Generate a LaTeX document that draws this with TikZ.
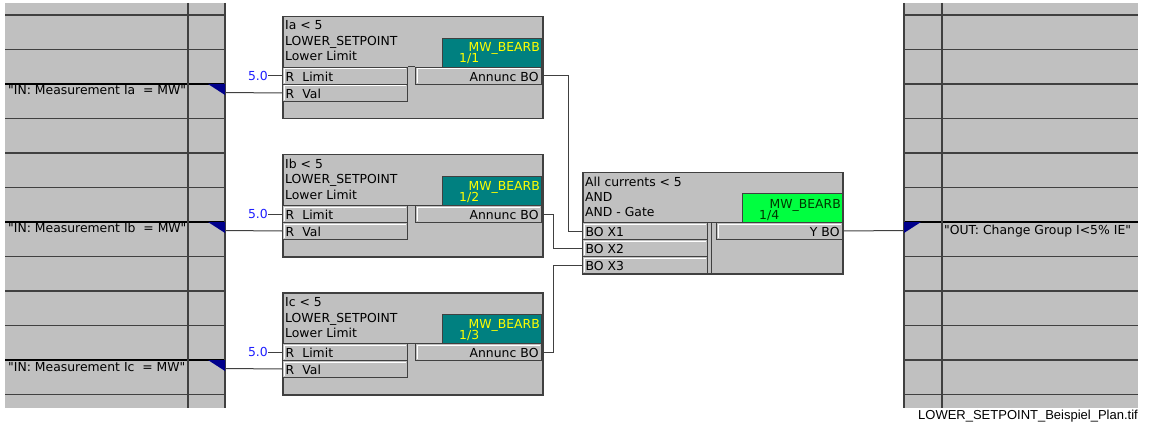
\documentclass[tikz,border=0pt]{standalone}
\usepackage{fontspec}
\setmainfont{DejaVu Sans}
\newfontfamily\capfont{Liberation Sans}
\newfontfamily\rawfont{DejaVu Sans}
\usetikzlibrary{positioning,calc}
\newcommand{\dq}{{\rawfont\symbol{34}}}
\definecolor{panelgrey}{RGB}{192,192,192}
\definecolor{framegrey}{RGB}{64,64,64}
\definecolor{tagteal}{RGB}{0,128,128}
\definecolor{taggreen}{RGB}{0,255,64}
\definecolor{tagyellow}{RGB}{255,255,0}
\definecolor{tagdark}{RGB}{0,56,0}
\definecolor{constblue}{RGB}{30,30,255}
\definecolor{markernavy}{RGB}{0,0,140}
\tikzset{
  blocktext/.style={font=\fontsize{12.4}{14}\selectfont},
  block/.style={draw=framegrey,line width=1.5pt,fill=panelgrey,anchor=north west,
    minimum width=260pt,minimum height=102pt,inner sep=0pt},
  headline/.style={blocktext,anchor=base west,inner sep=0pt},
  tagbox/.style={draw=framegrey,line width=1pt,anchor=north east,
    minimum width=99pt,minimum height=29pt,inner sep=0pt},
  tagtext/.style={blocktext,inner sep=0pt},
  port/.style={blocktext,draw=framegrey,line width=1pt,fill=panelgrey,
    minimum height=17pt,inner ysep=0pt,inner xsep=3pt,text height=11pt,text depth=0pt,
    path picture={\draw[white,line width=1pt]
      ([shift={(1.5pt,1.5pt)}]path picture bounding box.south west) |-
      ([shift={(-1.5pt,-1.5pt)}]path picture bounding box.north east);}},
  inport/.style={port,anchor=north west,text width=119pt,align=left},
  outport/.style={port,anchor=north east,text width=120pt,align=right},
  wire/.style={draw=framegrey,line width=1pt},
  rowline/.style={draw=framegrey,line width=1.5pt},
  sigline/.style={draw=black,line width=1.5pt},
  siglabel/.style={blocktext,anchor=base west,inner sep=0pt}
}
\begin{document}
\begin{tikzpicture}[x=1pt,y=-1pt]
  \useasboundingbox (0,0) rectangle (1149,425);
  % signal panels
  \fill[panelgrey] (5,3) rectangle (225,408);
  \fill[panelgrey] (904,3) rectangle (1138,408);
  \foreach \k in {0,...,11}{
    \pgfmathsetmacro\ry{15+34.5*\k}
    \draw[rowline] (5,\ry) -- (225,\ry);
    \draw[rowline] (904,\ry) -- (1138,\ry);
  }
  \foreach \ry in {84,222,360}
    \draw[sigline] (5,\ry) -- (225,\ry);
  \draw[sigline] (904,222) -- (1138,222);
  \draw[rowline] (188,3) -- (188,408);
  \draw[rowline] (225,3) -- (225,408);
  \draw[rowline] (904,3) -- (904,408);
  \draw[rowline] (942,3) -- (942,408);

  % setpoint blocks
  \foreach \cur/\oy/\num in {a/0/1,b/138/2,c/276/3}{
    \node[siglabel] (lbl-\cur) at (8,95+\oy) {\dq IN: Measurement I\cur~~= MW\dq};
    \fill[markernavy] (208,84+\oy) -- (225,84+\oy) -- (225,95+\oy) -- cycle;
    \coordinate (in-\cur) at (225,92.5+\oy);
    \node[block] (sp\cur) at (282,16+\oy) {};
    \node[headline] (sp\cur-t1) at (285,30+\oy) {I\cur~<~5};
    \node[headline] (sp\cur-t2) at (285,46+\oy) {LOWER\_SETPOINT};
    \node[headline] (sp\cur-t3) at (285,61+\oy) {Lower Limit};
    \node[tagbox,fill=tagteal] (sp\cur-tag) at (542,38+\oy) {};
    \node[tagtext,anchor=base east,text=tagyellow] (sp\cur-tg1) at (540,52+\oy) {MW\_BEARB};
    \node[tagtext,anchor=base west,text=tagyellow] (sp\cur-tg2) at (459,63+\oy) {1/\num};
    \node[inport] (sp\cur-lim) at (282,67+\oy) {R~~Limit};
    \node[inport] (sp\cur-val) at (282,84+\oy) {R~~Val};
    \node[outport] (sp\cur-out) at (542,67+\oy) {Annunc BO};
    \draw[wire] (sp\cur-lim.north east) -- (sp\cur-out.north west);
    \node[blocktext,anchor=east,inner sep=0pt,text=constblue] (k-\cur) at (268,76+\oy) {5.0};
    \draw[wire] (k-\cur) -- (sp\cur-lim.west);
    \draw[wire] (in-\cur) -- (sp\cur-val.west);
  }

  % AND gate
  \node[block,minimum height=101pt] (and) at (582,172) {};
  \node[headline] (and-t1) at (585,186) {All currents < 5};
  \node[headline] (and-t2) at (585,201) {AND};
  \node[headline] (and-t3) at (585,216) {AND - Gate};
  \node[tagbox,fill=taggreen,minimum width=100pt] (and-tag) at (843,193) {};
  \node[tagtext,anchor=base east,text=tagdark] (and-tg1) at (841,208) {MW\_BEARB};
  \node[tagtext,anchor=base west,text=tagdark] (and-tg2) at (759,219) {1/4};
  \node[inport] (and-x1) at (582,222) {BO X1};
  \node[inport] (and-x2) at (582,239) {BO X2};
  \node[inport] (and-x3) at (582,256) {BO X3};
  \node[outport] (and-y) at (843,222) {Y BO};
  \draw[wire] (and-x1.north east) -- (and-y.north west);
  \draw[wire] ([xshift=3pt]and-x1.north east) -- ([xshift=3pt]and-x3.south east);

  % connections
  \draw[wire] (spa-out.east) -- ++(26,0) |- (and-x1.west);
  \draw[wire] (spb-out.east) -- ++(11,0) |- (and-x2.west);
  \draw[wire] (spc-out.east) -- ++(11,0) |- (and-x3.west);
  \coordinate (out-sig) at (904,230.5);
  \draw[wire] (and-y.east) -- (out-sig);
  \fill[markernavy] (904,222) -- (921,222) -- (904,233) -- cycle;
  \node[siglabel] (lbl-out) at (944,234) {\dq OUT: Change Group I<5\% IE\dq};

  \node[anchor=base east,inner sep=0pt,font=\capfont\fontsize{13}{15}\selectfont] (caption)
    at (1138,419) {LOWER\_SETPOINT\_Beispiel\_Plan.tif};
\end{tikzpicture}
\end{document}
